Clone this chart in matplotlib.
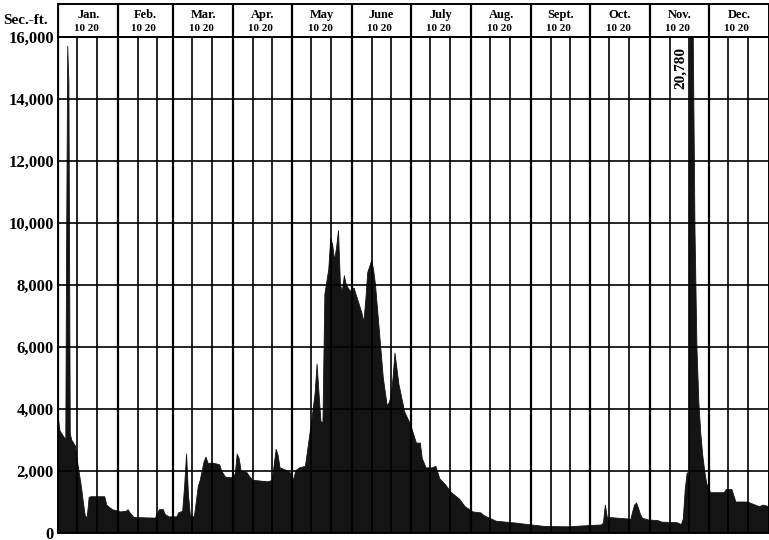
import matplotlib.pyplot as plt

# Daily discharge (sec.-ft.), day of year
days = [0, 1, 3, 4, 4.4, 5, 5.6, 6.3, 7, 9, 10, 11, 12, 13, 14, 15, 16, 17, 24, 25, 26, 28,
        30, 32, 35, 36, 37, 39, 50, 51, 52, 54, 55, 57, 61, 62, 64, 65, 66, 67, 68, 70,
        71, 72, 73, 75, 76, 77, 80, 83, 84, 86, 89, 91, 92, 93, 94, 97, 98, 100, 108, 110,
        111, 112, 113, 114, 118, 120, 121, 122, 124, 127, 128, 130, 132, 133, 134, 135, 136, 137, 139, 140,
        141, 142, 143, 144, 145, 146, 147, 148, 150, 152, 154, 156, 157, 158, 159, 161, 162, 163, 165, 167,
        169, 170, 171, 172, 173, 174, 175, 177, 178, 181, 183, 184, 186, 187, 189, 192, 194, 196, 199, 202,
        206, 209, 213, 217, 219, 225, 235, 243, 250, 262, 270, 279, 280, 281, 282, 285, 293, 294, 295, 296,
        297, 298, 299, 300, 303, 308, 310, 318, 320, 321, 322, 323, 324, 324.6, 326, 327, 328, 329, 330, 331,
        332, 333, 334, 335, 340, 342, 343, 346, 347, 348, 354, 356, 360, 362, 365]
flow = [3800, 3300, 3100, 3000, 9000, 15700, 14500, 3200, 3000, 2800, 2300, 1900, 1500, 1000, 550, 500, 1150, 1170, 1170, 900, 850, 750,
        720, 680, 700, 750, 650, 500, 480, 600, 750, 760, 600, 520, 520, 650, 700, 1500, 2550, 1200, 550, 520,
        1000, 1500, 1700, 2300, 2450, 2250, 2250, 2200, 2000, 1800, 1780, 1900, 2550, 2400, 2000, 1950, 1850, 1700, 1650, 1700,
        2200, 2700, 2500, 2100, 2000, 1900, 1700, 2000, 2100, 2150, 2600, 3500, 4500, 5450, 4500, 3600, 3550, 7700, 8500, 9500,
        9300, 8800, 9200, 9750, 8000, 7800, 8300, 8000, 7800, 7900, 7500, 7100, 6800, 7500, 8400, 8780, 8500, 8000, 6500, 5000,
        4100, 4200, 4400, 5000, 5800, 5300, 4800, 4200, 3900, 3500, 3100, 2900, 2900, 2400, 2100, 2100, 2150, 1750, 1550, 1300,
        1100, 850, 680, 650, 550, 380, 320, 260, 210, 200, 230, 260, 320, 900, 500, 490, 450, 420, 680, 900,
        970, 800, 600, 480, 420, 400, 350, 330, 270, 450, 1400, 1950, 1700, 20780, 16800, 9800, 6000, 4200, 3200, 2500,
        2000, 1600, 1450, 1300, 1300, 1300, 1400, 1400, 1200, 1000, 1000, 950, 850, 900, 850]

months = ['Jan.', 'Feb.', 'Mar.', 'Apr.', 'May', 'June', 'July', 'Aug.', 'Sept.', 'Oct.', 'Nov.', 'Dec.']
month_start = [0, 31, 59, 90, 120, 151, 181, 212, 243, 273, 304, 334, 365]
yticks = list(range(0, 16001, 2000))
peak_label = '20,780'

serif = 'Liberation Serif'
W, H = 769, 540
fig = plt.figure(figsize=(W / 100, H / 100), dpi=100)
fig.patch.set_facecolor('white')

left, right, top, bottom = 58, 769, 37, 533
ax = fig.add_axes([left / W, 1 - bottom / H, (right - left) / W, (bottom - top) / H])
ax.fill_between(days, flow, 0, color='#141414', lw=0.6, edgecolor='#141414', zorder=2)
ax.set_xlim(0, 365)
ax.set_ylim(0, 16000)

# grid: month lines plus 10th and 20th day lines, horizontal every 2,000
for i in range(12):
    ax.axvline(month_start[i], color='black', lw=1.6, zorder=3)
    for d in (10, 20):
        ax.axvline(month_start[i] + d, color='black', lw=1.2, zorder=3)
for y in yticks[1:-1]:
    ax.axhline(y, color='black', lw=1.2, zorder=3)

ax.set_xticks([])
ax.set_yticks(yticks)
ax.set_yticklabels([f'{v:,}' for v in yticks], fontfamily=serif, fontweight='bold', fontsize=12)
ax.tick_params(axis='y', length=0, pad=3)
for s in ax.spines.values():
    s.set_color('black')
    s.set_linewidth(1.4)

ax.text(319.5, 15000, peak_label, rotation=90, ha='center', va='center',
        fontfamily=serif, fontweight='bold', fontsize=11, zorder=4)

# header box with month names
hdr = fig.add_axes([left / W, 1 - top / H, (right - left) / W, (top - 4) / H])
hdr.set_xlim(0, 365)
hdr.set_ylim(0, 1)
hdr.set_xticks([])
hdr.set_yticks([])
for s in hdr.spines.values():
    s.set_color('black')
    s.set_linewidth(1.4)
for i, m in enumerate(months):
    hdr.axvline(month_start[i], color='black', lw=1.6)
    mid = (month_start[i] + month_start[i + 1]) / 2
    hdr.text(mid, 0.66, m, ha='center', va='center', fontfamily=serif,
             fontweight='bold', fontsize=9)
    hdr.text(mid - 1, 0.27, '10 20', ha='center', va='center', fontfamily=serif,
             fontweight='bold', fontsize=8)

fig.text(3 / W, 1 - 20 / H, 'Sec.-ft.', ha='left', va='center', fontfamily=serif,
         fontweight='bold', fontsize=11)

fig.savefig('out.png', dpi=100)
